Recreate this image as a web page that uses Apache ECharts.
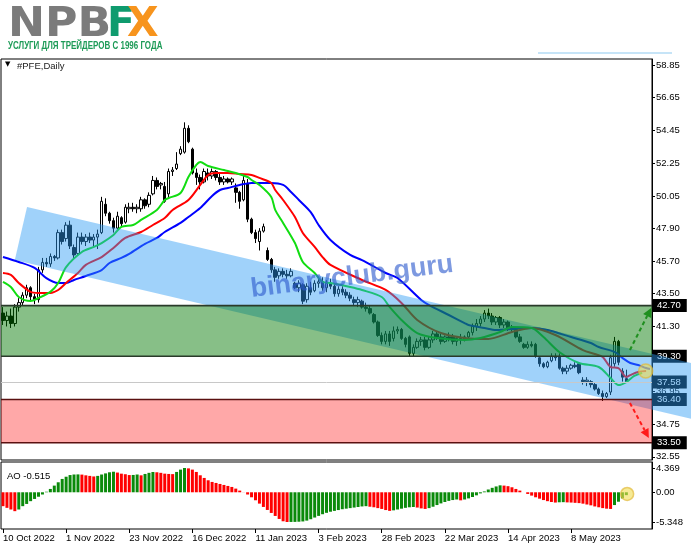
<!DOCTYPE html>
<html><head><meta charset="utf-8">
<script src="https://cdn.jsdelivr.net/npm/echarts@6/dist/echarts.min.js"></script>
<style>html,body{margin:0;padding:0;background:#fff}#c{width:691px;height:549px}</style>
</head><body><div id="c"></div>
<script>
// ---------- data ----------
const tickLabels = ['10 Oct 2022','1 Nov 2022','23 Nov 2022','16 Dec 2022','11 Jan 2023','3 Feb 2023','28 Feb 2023','22 Mar 2023','14 Apr 2023','8 May 2023'];
const openP = [42.2,41.7,42.0,41.5,42.6,42.9,43.4,43.9,43.3,43.1,45.1,45.6,45.5,46.0,45.9,47.6,47.2,48.1,46.6,46.2,
47.3,47.0,47.3,47.1,47.3,47.6,49.5,48.9,48.4,47.9,48.6,48.3,49.2,49.3,49.2,49.2,49.8,49.5,50.2,51.1,
50.8,50.7,50.2,51.7,51.9,52.9,53.0,54.6,53.2,51.6,51.3,51.0,51.6,51.4,51.7,51.3,51.0,51.2,51.0,50.6,
50.3,49.8,50.9,48.5,47.6,47.0,47.7,46.4,45.8,45.1,44.7,45.0,44.8,44.7,44.2,43.9,44.1,43.1,43.9,43.7,
44.2,44.3,43.9,44.2,44.0,43.5,43.8,43.6,43.4,43.1,42.9,43.0,42.6,42.5,42.1,41.6,40.7,40.3,40.8,40.5,
41.0,41.1,40.5,40.6,39.5,39.9,40.3,40.4,39.9,40.4,40.8,40.6,40.3,40.6,40.6,40.3,40.5,40.4,40.6,40.9,
41.3,41.5,41.8,42.2,42.0,41.6,41.9,41.4,41.6,41.2,41.1,40.6,40.1,39.9,40.1,40.1,39.2,38.8,38.6,39.0,
39.3,39.3,38.5,38.3,38.5,38.7,38.8,37.7,37.6,37.6,37.4,37.1,36.8,36.6,36.9,38.8,40.3,38.3,37.8];
const highP = [42.6,42.3,42.5,42.8,43.2,43.6,44.1,44.0,43.5,45.3,45.9,45.9,46.2,46.1,47.8,47.8,48.3,48.4,46.8,47.6,
47.6,47.5,47.6,47.5,47.8,50.0,49.9,49.0,48.6,49.0,48.7,49.5,49.6,49.6,49.5,50.0,49.9,50.3,51.4,51.3,
51.0,51.0,51.9,52.0,53.0,53.4,55.0,54.8,53.3,51.9,51.5,51.9,51.9,51.9,51.8,51.6,51.4,51.3,51.3,50.9,
50.4,51.5,51.2,48.6,47.8,47.9,48.2,46.6,45.9,45.3,45.2,45.2,45.1,45.2,44.3,44.4,44.2,44.2,44.3,44.4,
44.5,44.6,44.4,44.5,44.2,44.0,44.0,43.8,43.6,43.3,43.3,43.1,42.9,42.7,42.2,41.7,40.9,41.0,41.0,41.3,
41.3,41.2,40.6,40.7,40.1,40.5,40.6,40.6,40.6,41.0,41.0,40.8,40.7,40.9,40.8,40.6,40.8,40.7,41.0,41.5,
41.8,42.0,42.4,42.5,42.2,42.0,42.0,41.8,41.7,41.4,41.2,40.8,40.2,40.3,40.3,40.2,39.3,38.9,39.0,39.5,
39.5,39.5,38.6,38.7,38.8,38.9,38.9,37.9,37.9,37.7,37.5,37.2,37.0,36.9,39.4,40.6,40.4,38.5,38.4];
const lowP = [41.4,41.3,41.2,41.3,42.3,42.7,43.2,43.0,42.8,42.9,44.9,45.3,45.3,45.7,45.8,46.8,47.0,46.5,45.9,46.1,
46.8,46.7,46.9,46.7,46.5,47.5,48.7,48.2,47.6,47.8,48.0,48.2,48.9,49.0,48.9,49.0,49.2,49.3,50.1,50.5,
50.5,49.6,49.9,51.4,51.8,52.8,52.9,53.6,51.5,50.8,50.5,50.9,51.1,51.2,51.1,50.8,50.8,50.9,50.8,49.6,
49.2,49.7,48.3,47.5,46.9,46.4,47.6,45.7,44.9,44.3,44.5,44.6,44.5,44.6,43.8,43.6,42.8,42.9,43.4,43.6,
43.9,43.7,43.6,43.8,43.3,43.3,43.4,43.2,43.0,42.7,42.6,42.5,42.3,42.1,41.5,40.6,40.1,40.1,40.0,40.3,
40.8,40.4,39.9,39.3,39.3,39.8,40.0,39.7,39.8,40.2,40.4,40.1,40.2,40.3,40.1,40.0,40.1,40.3,40.5,40.7,
41.0,41.3,41.6,41.8,41.4,41.4,41.2,41.2,41.0,40.9,40.5,40.2,39.8,39.8,39.9,39.2,38.6,38.5,38.5,38.9,
39.0,38.4,38.1,38.1,38.4,38.5,38.1,37.4,37.3,37.2,37.0,36.7,36.3,36.5,36.7,38.6,38.7,37.6,37.6];
const closeP = [41.7,42.0,41.5,42.6,42.9,43.4,43.9,43.3,43.1,45.1,45.6,45.5,46.0,45.9,47.6,47.0,48.1,46.7,46.1,47.3,
47.0,47.3,47.1,47.3,47.5,49.7,48.9,48.4,47.9,48.7,48.2,49.3,49.3,49.2,49.3,49.8,49.4,50.1,51.1,50.7,
50.9,49.7,51.7,51.8,52.2,53.2,54.6,53.7,51.6,51.3,51.0,51.7,51.4,51.7,51.3,51.0,51.2,51.0,51.2,50.3,
49.7,51.1,48.5,47.6,47.2,47.7,48.0,45.8,45.1,44.6,45.0,44.8,44.7,45.0,43.9,44.2,43.0,44.0,43.6,44.2,
44.3,43.9,44.2,44.0,43.5,43.8,43.6,43.4,43.2,42.9,43.1,42.6,42.5,42.2,41.6,40.7,40.3,40.8,40.3,41.0,
41.1,40.5,40.1,39.5,39.9,40.3,40.4,39.9,40.4,40.8,40.6,40.3,40.6,40.5,40.3,40.5,40.4,40.6,40.9,41.3,
41.5,41.8,42.2,42.0,41.6,41.9,41.4,41.6,41.2,41.1,40.6,40.3,39.9,40.1,40.0,39.3,38.8,38.6,38.9,39.3,
39.2,38.5,38.3,38.5,38.7,38.6,38.2,37.6,37.7,37.4,37.1,36.8,36.6,36.8,39.2,40.3,38.9,37.9,37.58];

// Alligator lines: [bar index, price]
const jawLine = [[0,45.96],[4,45.63],[8,45.23],[11,44.55],[14,44.22],[16,44.22],[18,44.42],[21,44.69],[25,45.09],[27,45.56],[30,45.90],[32,46.17],[36,46.84],[39,47.24],[41,47.64],[45,48.25],[47,48.65],[50,49.25],[53,50.06],[55,50.46],[57,50.59],[60,50.80],[63,50.93],[65,50.93],[68,50.93],[71,50.80],[73,50.33],[75,49.79],[78,48.98],[80,48.11],[83,47.11],[88,46.10],[91,45.76],[97,44.89],[100,44.55],[106,43.08],[108,42.74],[113,42.07],[117,41.53],[118,41.40],[122,41.20],[125,41.06],[130,41.15],[134,41.20],[138,41.06],[144,40.59],[149,40.19],[151,39.92],[155,39.59],[157,39.19],[159,38.85],[161,38.72],[163,38.51],[164,38.45]];
const teethLine = [[0,44.89],[2,44.76],[4,44.22],[7,43.62],[9,43.55],[12,43.55],[14,43.75],[16,44.22],[19,44.89],[21,45.43],[25,45.96],[28,46.57],[31,47.24],[35,47.64],[38,48.11],[41,48.58],[43,49.12],[47,49.79],[50,50.80],[52,51.47],[54,51.60],[57,51.60],[60,51.53],[63,51.47],[65,51.27],[68,50.93],[69,50.46],[71,49.79],[74,48.65],[76,47.57],[79,46.64],[81,45.96],[83,45.43],[91,44.42],[97,43.75],[101,42.88],[105,41.74],[111,40.86],[117,40.53],[123,40.46],[129,40.93],[134,41.20],[140,40.73],[147,39.72],[150,39.45],[152,39.25],[154,38.58],[156,38.51],[158,37.91],[159,38.04],[161,38.25],[163,38.31]];
const lipsLine = [[0,44.29],[2,43.95],[4,43.28],[7,43.01],[9,43.21],[12,43.62],[14,44.22],[16,45.29],[20,46.30],[23,46.64],[25,46.90],[28,47.44],[30,47.98],[33,48.11],[35,48.45],[39,49.12],[41,49.79],[42,49.92],[45,50.26],[47,51.33],[49,52.14],[50,52.34],[52,52.07],[56,51.80],[59,51.60],[62,51.33],[63,51.13],[65,50.80],[68,49.99],[69,49.12],[71,48.25],[74,46.90],[76,45.63],[79,44.89],[81,44.29],[83,44.22],[88,43.95],[91,43.75],[96,43.28],[98,42.61],[101,41.74],[105,40.86],[110,40.53],[117,40.39],[121,40.53],[126,40.93],[129,41.27],[134,41.20],[137,40.59],[141,39.59],[146,38.85],[151,38.58],[154,37.84],[156,37.37],[158,37.57],[160,37.98],[162,38.18]];

const aoValues = [-2.5,-2.8,-3.1,-3.4,-3.1,-2.5,-2.1,-1.6,-1.2,-0.8,
-0.4,0.1,0.6,1.2,1.8,2.4,2.8,3.1,3.2,3.22,
3.18,3.05,2.95,2.85,2.95,3.2,3.4,3.6,3.7,3.55,
3.35,3.25,3.1,3.12,3.2,3.05,3.3,3.5,3.65,3.6,
3.5,3.35,3.3,3.27,3.66,4.08,4.369,4.3,4.08,3.66,
3.06,2.58,2.16,1.86,1.68,1.5,1.32,1.14,0.96,0.66,
0.3,-0.02,-0.4,-0.9,-1.44,-2.04,-2.64,-3.18,-3.72,-4.26,
-4.8,-5.22,-5.348,-5.34,-5.33,-5.3,-5.25,-5.1,-4.85,-4.55,
-4.25,-3.95,-3.7,-3.5,-3.35,-3.2,-3.05,-2.95,-2.85,-2.75,
-2.65,-2.55,-2.5,-2.6,-2.7,-2.85,-3.0,-3.2,-3.35,-3.25,
-3.1,-2.95,-2.8,-2.7,-2.65,-2.75,-2.9,-3.0,-2.85,-2.6,
-2.3,-2.0,-1.75,-1.55,-1.4,-1.3,-1.45,-1.3,-1.1,-0.85,
-0.55,-0.2,0.15,0.5,0.8,1.05,1.25,1.2,1.1,0.9,
0.6,0.3,0.0,-0.3,-0.6,-0.9,-1.15,-1.4,-1.6,-1.75,
-1.85,-1.8,-1.78,-1.82,-1.85,-1.9,-1.95,-2.05,-2.2,-2.35,
-2.55,-2.7,-2.85,-2.95,-3.0,-2.3,-1.7,-1.1,-0.515];

const priceTicks = [58.85,56.65,54.45,52.25,50.05,47.90,45.70,43.50,41.30,39.15,36.95,34.75,32.55];
const levelTags = [42.70,39.30,37.58,36.40,33.50];
const aoTicks = [4.369,0,-5.348];
const lastPrice = 37.58;
const buyZone = [39.30,42.70];
const sellZone = [33.50,36.40];
const channelUpper = [[6.1,49.32],[174.4,38.85]];
const channelLower = [[3.0,45.76],[174.4,35.10]];
const upArrow = [[158.9,39.72],[164.3,42.54]];
const downArrow = [[158.9,36.17],[163.7,33.82]];
const priceMark = [162.9,38.31];
const aoMark = [158.2,-0.3];

// ---------- chart ----------
const NCAT = 165;
const cats = Array.from({length:NCAT},(_,i)=>String(i));
const FONT = 'Liberation Sans, Arial, sans-serif';
const chart = echarts.init(document.getElementById('c'), null, {renderer:'canvas'});

function zoneSeries(range, fill, stroke){
  return {type:'custom', xAxisIndex:1, yAxisIndex:0, z:4, silent:true, data:[[0, range[0], range[1]]],
    encode:{x:0, y:[1,2]},
    renderItem:(params, api)=>{
      const cs = params.coordSys;
      const yTop = api.coord([0, range[1]])[1];
      const yBot = api.coord([0, range[0]])[1];
      return {type:'group', children:[
        {type:'rect', shape:{x:cs.x, y:yTop, width:cs.width, height:yBot-yTop}, style:{fill}},
        {type:'line', shape:{x1:cs.x,y1:yTop,x2:cs.x+cs.width,y2:yTop}, style:{stroke, lineWidth:1.6}},
        {type:'line', shape:{x1:cs.x,y1:yBot,x2:cs.x+cs.width,y2:yBot}, style:{stroke, lineWidth:1.6}}
      ]};
    }};
}
function arrowSeries(pts, color){
  return {type:'custom', xAxisIndex:1, yAxisIndex:0, z:6, silent:true, clip:false, data:[[pts[0][0], pts[0][1]]],
    renderItem:(params, api)=>{
      const a = api.coord(pts[0]), b = api.coord(pts[1]);
      const ang = Math.atan2(b[1]-a[1], b[0]-a[0]);
      const L = 9, W = 4.5;
      const bx = b[0]-L*Math.cos(ang), by = b[1]-L*Math.sin(ang);
      return {type:'group', children:[
        {type:'line', shape:{x1:a[0],y1:a[1],x2:bx,y2:by}, style:{stroke:color, lineWidth:2, lineDash:[4,3]}},
        {type:'polygon', shape:{points:[b,[bx+W*Math.sin(ang), by-W*Math.cos(ang)],[bx-W*Math.sin(ang), by+W*Math.cos(ang)]]}, style:{fill:color}}
      ]};
    }};
}
function markSeries(pt, xi, yi, r){
  return {type:'custom', xAxisIndex:xi, yAxisIndex:yi, z:7, silent:true, clip:false, data:[pt],
    renderItem:(params, api)=>{
      const c = api.coord(pt);
      return {type:'circle', shape:{cx:c[0], cy:c[1], r}, style:{fill:'rgba(240,220,80,0.6)', stroke:'rgba(225,185,60,0.7)', lineWidth:1.5}};
    }};
}

const aoData = aoValues.map((v,i)=>({value:v, itemStyle:{color: (i>0 && v>aoValues[i-1]) ? '#0a8a0a' : '#ff0000'}}));
const labelIdx = i => i % 16 === 0 && i/16 < tickLabels.length;

const option = {
  animation:false,
  backgroundColor:'#fff',
  grid:[
    {left:1, right:39, top:59, height:401, show:true, borderColor:'#000', borderWidth:1, backgroundColor:'transparent'},
    {left:1, right:39, top:462, height:67, show:true, borderColor:'#000', borderWidth:1, backgroundColor:'transparent'}
  ],
  xAxis:[
    {type:'category', gridIndex:0, data:cats, boundaryGap:true, axisLine:{show:false}, axisTick:{show:false}, axisLabel:{show:false}, splitLine:{show:false}},
    {type:'value', gridIndex:0, min:-0.5, max:NCAT-0.5, show:false, axisLine:{onZero:false}},
    {type:'category', gridIndex:1, data:cats, boundaryGap:true, axisLine:{show:false, onZero:false},
      axisTick:{show:true, alignWithLabel:true, interval:(i)=>labelIdx(i), length:4, lineStyle:{color:'#000'}},
      axisLabel:{interval:(i)=>labelIdx(i), formatter:(v,i)=>tickLabels[i/16]||'', align:'left', margin:4, color:'#000', fontSize:9.5, fontFamily:FONT},
      splitLine:{show:false}},
    {type:'value', gridIndex:1, min:-0.5, max:NCAT-0.5, show:false, axisLine:{onZero:false}}
  ],
  yAxis:[
    {type:'value', gridIndex:0, position:'right', min:32.34, max:59.25, splitLine:{show:false},
      axisLine:{show:true, onZero:false, lineStyle:{color:'#000'}},
      axisTick:{show:true, length:3, lineStyle:{color:'#000'}, customValues:priceTicks},
      axisLabel:{customValues:priceTicks, formatter:v=>v.toFixed(2), color:'#000', fontSize:9.5, fontFamily:FONT, margin:4}},
    {type:'value', gridIndex:0, position:'right', min:32.34, max:59.25, splitLine:{show:false},
      axisLine:{show:false, onZero:false}, axisTick:{show:false},
      axisLabel:{customValues:levelTags, formatter:v=>v.toFixed(2), color:'#fff', backgroundColor:'#000', padding:[2,6,1,4], margin:1, fontSize:9.5, fontFamily:FONT}},
    {type:'value', gridIndex:1, position:'right', min:-6.61, max:5.45, splitLine:{show:false},
      axisLine:{show:true, onZero:false, lineStyle:{color:'#000'}},
      axisTick:{show:true, length:3, lineStyle:{color:'#000'}, customValues:aoTicks},
      axisLabel:{customValues:aoTicks, formatter:v=>v===0?'0.00':String(v), color:'#000', fontSize:9.5, fontFamily:FONT, margin:4}}
  ],
  series:[
    {type:'candlestick', xAxisIndex:0, yAxisIndex:0, z:1, barWidth:3,
      data:openP.map((o,i)=>[o, closeP[i], lowP[i], highP[i]]),
      itemStyle:{color:'#fff', color0:'#000', borderColor:'#000', borderColor0:'#000', borderWidth:1},
      markLine:{symbol:'none', silent:true, label:{show:false}, lineStyle:{color:'#c8c8c8', width:1, type:'solid'}, data:[{yAxis:lastPrice}]}},
    {type:'line', xAxisIndex:1, yAxisIndex:0, z:2, data:jawLine, showSymbol:false, smooth:0.3, lineStyle:{color:'#0000ff', width:2}},
    {type:'line', xAxisIndex:1, yAxisIndex:0, z:2, data:teethLine, showSymbol:false, smooth:0.3, lineStyle:{color:'#ff0000', width:2}},
    {type:'line', xAxisIndex:1, yAxisIndex:0, z:2, data:lipsLine, showSymbol:false, smooth:0.3, lineStyle:{color:'#11dd11', width:2}},
    {type:'custom', xAxisIndex:1, yAxisIndex:0, z:3, silent:true, clip:false, data:[[channelLower[0][0], channelLower[0][1]]],
      renderItem:(params, api)=>({type:'polygon', shape:{points:[
        api.coord(channelUpper[0]), api.coord(channelUpper[1]), api.coord(channelLower[1]), api.coord(channelLower[0])]},
        style:{fill:'rgba(44,155,244,0.45)'}})},
    zoneSeries(buyZone, 'rgba(0,118,0,0.47)', '#2a3a2a'),
    zoneSeries(sellZone, 'rgba(255,0,0,0.34)', '#5a1010'),
    arrowSeries(upArrow, '#1f8f1f'),
    arrowSeries(downArrow, '#ff1a1a'),
    markSeries(priceMark, 1, 0, 7),
    {type:'bar', xAxisIndex:2, yAxisIndex:2, barWidth:3, data:aoData, z:2},
    markSeries(aoMark, 3, 2, 6.5)
  ],
  graphic:[
    {type:'text', x:8, y:5, z:100, scaleX:1.08, style:{text:'NPB', fill:'#7b7b7b', font:'bold 41px "DejaVu Sans", sans-serif'}},
    {type:'text', x:107, y:5, z:100, style:{text:'F', fill:'#0f9b6e', font:'bold 41px "DejaVu Sans", sans-serif'}},
    {type:'text', x:127, y:5, z:101, style:{text:'X', fill:'#f7941d', font:'bold 41px "DejaVu Sans", sans-serif'}},
    {type:'text', x:8, y:41, z:100, scaleX:0.76, style:{text:'УСЛУГИ ДЛЯ ТРЕЙДЕРОВ С 1996 ГОДА', fill:'#1d9b57', font:'bold 10.5px "Liberation Sans", Arial, sans-serif'}},
    {type:'line', z:100, shape:{x1:538,y1:53,x2:672,y2:53}, style:{stroke:'#c6e4f7', lineWidth:2}},
    {type:'text', x:5, y:61, z:100, style:{text:'▼', fill:'#000', font:'7px "DejaVu Sans", sans-serif'}},
    {type:'text', x:17, y:61, z:100, style:{text:'#PFE,Daily', fill:'#222', font:'9.5px "Liberation Sans", Arial, sans-serif'}},
    {type:'text', x:7, y:471, z:100, style:{text:'AO -0.515', fill:'#000', font:'9.5px "Liberation Sans", Arial, sans-serif'}},
    {type:'text', x:352, y:277, z:100, rotation:0.125, style:{text:'binaryclub.guru', fill:'rgba(45,90,205,0.62)', font:'bold 27px "Liberation Sans", Arial, sans-serif', align:'center', verticalAlign:'middle'}}
  ]
};
chart.setOption(option);
</script>
</body></html>
